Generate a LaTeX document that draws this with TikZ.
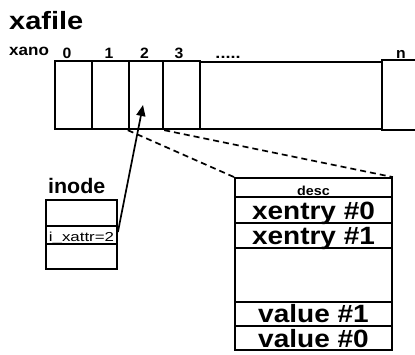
\documentclass[tikz,border=0pt]{standalone}
\usepackage{fontspec}
\setmainfont{Liberation Sans}
\usepackage{graphicx}
\usetikzlibrary{arrows.meta}
\newcommand{\hs}[2]{\scalebox{#1}[1]{#2}}
\begin{document}
\begin{tikzpicture}[x=1pt,y=-1pt,
  lbl/.style={inner sep=0pt,anchor=base},
  cellbox/.style={draw,line width=2.4pt,inner sep=0pt,minimum height=68pt},
  rowbox/.style={draw,line width=1.8pt,inner sep=0pt,minimum width=157pt},
  ibox/.style={draw,line width=1.8pt,inner sep=0pt,minimum width=71pt},
  dashline/.style={dash pattern=on 6pt off 4pt,line width=1.7pt},
  ptr/.style={line width=1.7pt,-{Triangle[length=11pt,width=9pt]}}]
\clip (0,0) rectangle (415,354);
\fill[white] (0,0) rectangle (415,354);

% titles
\node[lbl,anchor=base west] (title) at (9,29) {\hs{1.16}{\fontsize{25}{25}\selectfont\bfseries xafile}};
\node[lbl,anchor=base west] (xano) at (9,55) {\hs{1.1}{\fontsize{15.5}{15}\selectfont\bfseries xano}};
\node[lbl] (n0) at (67,58) {\hs{1.05}{\fontsize{15}{15}\selectfont\bfseries 0}};
\node[lbl] (n1) at (109,58) {\hs{1.05}{\fontsize{15}{15}\selectfont\bfseries 1}};
\node[lbl] (n2) at (144.5,58) {\hs{1.05}{\fontsize{15}{15}\selectfont\bfseries 2}};
\node[lbl] (n3) at (179,58) {\hs{1.05}{\fontsize{15}{15}\selectfont\bfseries 3}};
\node[lbl] (ndots) at (228,58) {\hs{1.2}{\fontsize{15}{15}\selectfont\bfseries .....}};
\node[lbl] (nn) at (401,58) {\hs{1.05}{\fontsize{15}{15}\selectfont\bfseries n}};

% xafile array
\draw[line width=1.8pt] (200,62) -- (382,62);
\draw[line width=1.8pt] (200,129) -- (382,129);
\draw[line width=2.4pt] (430,60) -- (382,60) -- (382,130) -- (430,130);
\node[cellbox,minimum width=37pt] (c0) at (73.5,95) {};
\node[cellbox,minimum width=37pt] (c1) at (110.5,95) {};
\node[cellbox,minimum width=34pt] (c2) at (146,95) {};
\node[cellbox,minimum width=37pt] (c3) at (181.5,95) {};

% inode
\node[lbl,anchor=base west] (inodelbl) at (48,193) {\hs{1.02}{\fontsize{21}{21}\selectfont\bfseries inode}};
\node[ibox,minimum height=26pt] (r1) at (81.5,213) {};
\node[ibox,minimum height=18pt] (r2) at (81.5,235) {};
\node[ibox,minimum height=25pt] (r3) at (81.5,256.5) {};
\node[lbl] (xattr) at (81.5,241) {\hs{1.3}{\fontsize{13}{13}\selectfont i\_xattr=2}};

% desc block
\node[rowbox,minimum height=19pt] (d0) at (313.5,187.5) {};
\node[rowbox,minimum height=26pt] (d1) at (313.5,210) {};
\node[rowbox,minimum height=25pt] (d2) at (313.5,235.5) {};
\node[rowbox,minimum height=54pt] (d3) at (313.5,275) {};
\node[rowbox,minimum height=24pt] (d4) at (313.5,314) {};
\node[rowbox,minimum height=24pt] (d5) at (313.5,338) {};
\node[lbl] (tdesc) at (313.5,195) {\hs{1.1}{\fontsize{13}{13}\selectfont\bfseries desc}};
\node[lbl] (tx0) at (313.5,219) {\hs{1.12}{\fontsize{25}{25}\selectfont\bfseries xentry \#0}};
\node[lbl] (tx1) at (313.5,244) {\hs{1.12}{\fontsize{25}{25}\selectfont\bfseries xentry \#1}};
\node[lbl] (tv1) at (313.5,322) {\hs{1.12}{\fontsize{25}{25}\selectfont\bfseries value \#1}};
\node[lbl] (tv0) at (313.5,347) {\hs{1.12}{\fontsize{25}{25}\selectfont\bfseries value \#0}};

% connectors
\coordinate (tip) at (143,105);
\draw[ptr] ([yshift=3pt]r2.east) -- (tip);
\draw[dashline] (c2.south west) -- (d0.north west);
\draw[dashline] (c2.south east) -- (d0.north east);
\end{tikzpicture}
\end{document}
